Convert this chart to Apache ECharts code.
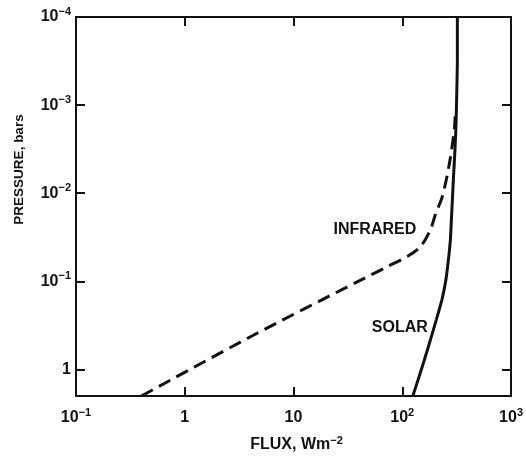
<!DOCTYPE html>
<html>
<head>
<meta charset="utf-8">
<script src="https://cdn.jsdelivr.net/npm/echarts@6/dist/echarts.min.js"></script>
<style>
  html, body { margin: 0; padding: 0; background: #fff; }
  #fluxChart { width: 526px; height: 458px; }
</style>
</head>
<body>
<div id="fluxChart"></div>
<script>
var fluxChart = echarts.init(document.getElementById('fluxChart'));

// Values (flux in W m^-2, pressure in bars).
var solarFlux = [125, 140, 160, 182, 206, 232, 252, 266, 277, 283, 289, 295, 302, 311, 316, 321, 321];
var solarPressure = [2, 1.30, 0.77, 0.456, 0.270, 0.160, 0.095, 0.056, 0.0333, 0.0197, 0.0117, 0.00693, 0.00411, 0.00187, 0.000855, 0.0003, 0.0001];

var infraredFlux = [0.40, 4.1, 39.3, 73.8, 112, 148, 182, 202, 234, 272, 301, 308];
var infraredPressure = [2, 0.42, 0.1, 0.0676, 0.052, 0.04, 0.0257, 0.0173, 0.0108, 0.0045, 0.00187, 0.00112];

// Where the curve names sit, in data coordinates.
var curveNames = ['INFRARED', 'SOLAR'];
var namePositions = [[56, 0.0257], [95, 0.333]];

var fontName = 'Liberation Sans, Arial, sans-serif';
var ink = '#111';

function pairs(xs, ys) {
  let out = [];
  for (let i = 0; i < xs.length; i++) {
    out.push([xs[i], ys[i]]);
  }
  return out;
}

// Powers of ten as 10 with a raised exponent.
function powerLabel(v) {
  let lg = Math.log10(v);
  let e = Math.round(lg);
  if (Math.abs(lg - e) > 0.01) return '';
  if (e === 0) return '{b|1}';
  if (e === 1) return '{b|10}';
  let exp = (e < 0 ? '\u2212' : '') + Math.abs(e);
  return '{b|10}{s|' + exp + '}';
}

var labelRich = {
  b: { fontSize: 16, fontWeight: 'bold', fontFamily: fontName, color: ink, lineHeight: 22 },
  s: { fontSize: 11, fontWeight: 'bold', fontFamily: fontName, color: ink, lineHeight: 11, verticalAlign: 'top' }
};

var frameLine = { show: true, onZero: false, lineStyle: { color: ink, width: 2 } };
var innerTick = { show: true, inside: true, length: 9, lineStyle: { color: ink, width: 2 } };

let option = {
  backgroundColor: '#fff',
  animation: false,
  grid: { left: 76, right: 13, top: 17, bottom: 61 },
  xAxis: [
    {
      type: 'log',
      logBase: 10,
      min: 0.1,
      max: 1000,
      position: 'bottom',
      axisLine: frameLine,
      axisTick: innerTick,
      splitLine: { show: false },
      axisLabel: { margin: 11, formatter: powerLabel, rich: labelRich, showMaxLabel: true, showMinLabel: true },
      name: '{n|FLUX, Wm}{ns|\u22122}',
      nameLocation: 'middle',
      nameGap: 39,
      nameTextStyle: {
        padding: [0, 0, 0, 6],
        rich: {
          n: { fontSize: 16, fontWeight: 'bold', fontFamily: fontName, color: ink, lineHeight: 20 },
          ns: { fontSize: 11, fontWeight: 'bold', fontFamily: fontName, color: ink, lineHeight: 11, verticalAlign: 'top' }
        }
      }
    },
    {
      type: 'log',
      logBase: 10,
      min: 0.1,
      max: 1000,
      position: 'top',
      axisLine: frameLine,
      axisTick: innerTick,
      splitLine: { show: false },
      axisLabel: { show: false }
    }
  ],
  yAxis: [
    {
      type: 'log',
      logBase: 10,
      min: 0.0001,
      max: 2,
      inverse: true,
      position: 'left',
      axisLine: frameLine,
      axisTick: innerTick,
      splitLine: { show: false },
      axisLabel: { margin: 5, formatter: powerLabel, rich: labelRich },
      name: 'PRESSURE, bars',
      nameLocation: 'middle',
      nameRotate: 90,
      nameGap: 50,
      nameTextStyle: {
        fontSize: 13.5,
        fontWeight: 'bold',
        fontFamily: 'Liberation Sans Narrow, Arial Narrow, sans-serif',
        color: ink,
        padding: [0, 0, 0, 74]
      }
    },
    {
      type: 'log',
      logBase: 10,
      min: 0.0001,
      max: 2,
      inverse: true,
      position: 'right',
      axisLine: frameLine,
      axisTick: innerTick,
      splitLine: { show: false },
      axisLabel: { show: false }
    }
  ],
  series: [
    {
      name: 'Infrared',
      type: 'line',
      xAxisIndex: 0,
      yAxisIndex: 0,
      data: pairs(infraredFlux, infraredPressure),
      smooth: 0.3,
      showSymbol: false,
      lineStyle: { color: ink, width: 3, type: [13, 7] },
      markPoint: {
        symbol: 'circle',
        symbolSize: 0,
        label: { show: true, position: 'inside', fontSize: 16, fontWeight: 'bold', fontFamily: fontName, color: ink, formatter: '{b}' },
        data: [{ name: curveNames[0], coord: namePositions[0] }]
      }
    },
    {
      name: 'Solar',
      type: 'line',
      xAxisIndex: 0,
      yAxisIndex: 0,
      data: pairs(solarFlux, solarPressure),
      smooth: 0.2,
      showSymbol: false,
      lineStyle: { color: ink, width: 3 },
      markPoint: {
        symbol: 'circle',
        symbolSize: 0,
        label: { show: true, position: 'inside', fontSize: 16, fontWeight: 'bold', fontFamily: fontName, color: ink, formatter: '{b}' },
        data: [{ name: curveNames[1], coord: namePositions[1] }]
      }
    }
  ]
};

fluxChart.setOption(option);
</script>
</body>
</html>
